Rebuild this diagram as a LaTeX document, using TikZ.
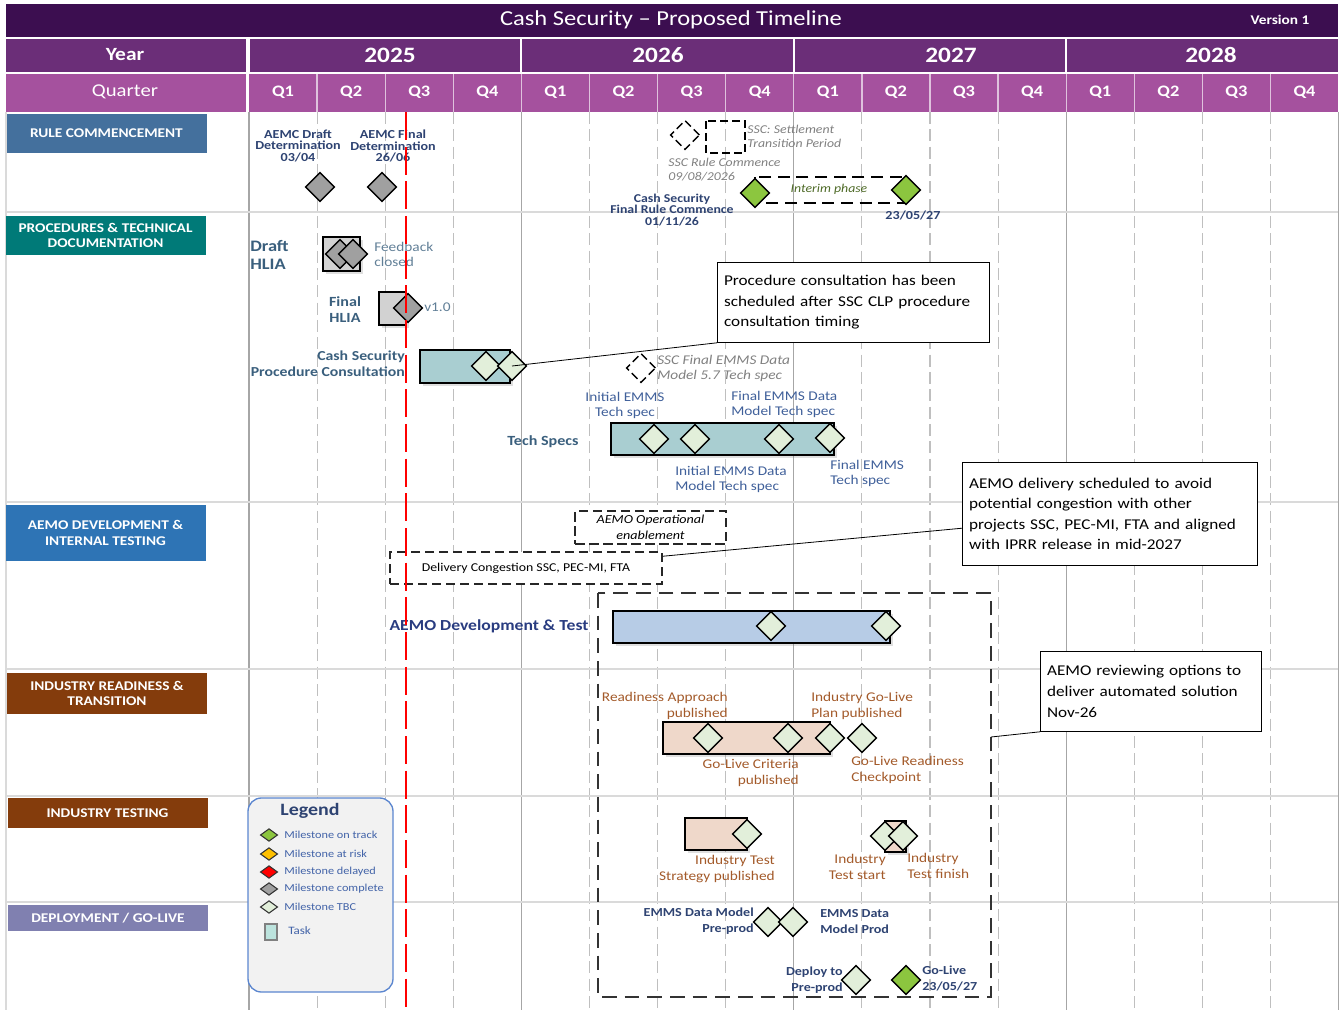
\documentclass[tikz,border=0pt]{standalone}
\usepackage{fontspec}
\setmainfont{Carlito}[FakeStretch=1.15]
\usetikzlibrary{positioning,shapes.geometric,calc,shadows}

\definecolor{titlebg}{HTML}{3C0E50}
\definecolor{yearbg}{HTML}{6B2E78}
\definecolor{qtrbg}{HTML}{A5519E}
\definecolor{gridgray}{HTML}{BFBFBF}
\definecolor{rowgray}{HTML}{DADADA}
\definecolor{navy}{HTML}{2E4372}
\definecolor{tealtxt}{HTML}{3A5F7D}
\definecolor{spectxt}{HTML}{40609A}
\definecolor{browntxt}{HTML}{A35A2A}
\definecolor{italgray}{HTML}{808080}
\definecolor{interim}{HTML}{4F6B28}
\definecolor{msgray}{HTML}{A0A0A0}
\definecolor{mstbc}{HTML}{E2EFDA}
\definecolor{msgreen}{HTML}{8CC63F}
\definecolor{msamber}{HTML}{FFC000}
\definecolor{msred}{HTML}{FF0000}
\definecolor{tealbar}{HTML}{A9CED1}
\definecolor{bluebar}{HTML}{B7CCE6}
\definecolor{peachbar}{HTML}{EFD8CA}
\definecolor{graybar}{HTML}{D2D2D2}
\definecolor{legtxt}{HTML}{4263A8}
\definecolor{legedge}{HTML}{5B86CF}
\definecolor{legfill}{HTML}{F2F2F2}
\definecolor{taskfill}{HTML}{BCE3DD}
\definecolor{rulecol}{HTML}{44709D}
\definecolor{proccol}{HTML}{007A78}
\definecolor{aemocol}{HTML}{2E74B5}
\definecolor{indcol}{HTML}{843C0C}
\definecolor{depcol}{HTML}{8080B0}

\begin{document}
\begin{tikzpicture}[
		x=0.75pt, y=-0.75pt, % 1 unit = 1 px of the layout
		ms/.style={diamond,draw=black,line width=1pt,inner sep=0pt,minimum size=22pt},
		done/.style={ms,fill=msgray},
		tbc/.style={ms,fill=mstbc},
		ontrack/.style={ms,fill=msgreen},
		ghost/.style={ms,dash pattern=on 6pt off 3pt},
		legms/.style={diamond,draw=black!80,line width=0.8pt,inner sep=0pt,minimum width=13pt,minimum height=9.5pt,fill=#1},
		bar/.style={draw=black,line width=1pt,drop shadow={opacity=0.25,shadow xshift=2pt,shadow yshift=-2pt}},
		sec/.style={fill=#1,text=white,font=\fontsize{10}{11.5}\selectfont\bfseries,align=center,inner sep=0pt,minimum width=150pt},
		yeartxt/.style={text=white,font=\fontsize{16.5}{18}\selectfont\bfseries},
		qtrtxt/.style={text=white,font=\fontsize{12}{13}\selectfont\bfseries},
		lblnavy/.style={font=\fontsize{9.2}{8.6}\selectfont\bfseries,text=navy,align=center,inner sep=0pt},
		italnote/.style={font=\fontsize{9}{10.5}\selectfont\itshape,text=italgray,align=left,inner sep=0pt},
		spec/.style={font=\fontsize{10}{11.3}\selectfont,text=spectxt,inner sep=0pt},
		procb/.style={font=\fontsize{10.5}{12}\selectfont\bfseries,text=tealtxt,inner sep=0pt},
		indlbl/.style={font=\fontsize{10}{11.5}\selectfont,text=browntxt,inner sep=0pt},
		deplbl/.style={font=\fontsize{9.2}{12}\selectfont\bfseries,text=navy,inner sep=0pt},
		callout/.style={draw=black,line width=0.6pt,fill=white,font=\fontsize{11.2}{15.4}\selectfont,align=left,anchor=north west,inner xsep=5pt},
		dbox/.style={draw=black!85,line width=1.2pt,dash pattern=on 7pt off 3.5pt,fill=white,inner sep=0pt}]
	\useasboundingbox (0,0) rectangle (1342,1012);

	% header
	\fill[titlebg] (6,4) rectangle (1338,37);
	\node (title) [text=white,font=\fontsize{16}{18}\selectfont] at (671,20) {Cash Security – Proposed Timeline};
	\node (version) [text=white,font=\fontsize{10}{11}\selectfont\bfseries] at (1280,20) {Version 1};
	\fill[yearbg] (6,39) rectangle (246,72);
	\node (yearhd) [text=white,font=\fontsize{14}{15}\selectfont\bfseries] at (125,55) {Year};
	\foreach \i/\yr/\tx in {0/2025/390,1/2026/658,2/2027/951,3/2028/1211} {
		\fill[yearbg] ({249+272.4*\i+1},39) rectangle ({249+272.4*(\i+1)-1},72);
		\node (y\yr) [yeartxt] at (\tx,55) {\yr};
	}
	\fill[qtrbg] (6,74) rectangle (246,112);
	\node (qtrhd) [text=white,font=\fontsize{13.5}{15}\selectfont] at (125,92) {Quarter};
	\fill[qtrbg] (249,74) rectangle (1338,112);
	\foreach \i in {1,...,15}
		\draw[white!65!qtrbg,line width=1pt] ({249+68.1*\i},74) -- ({249+68.1*\i},112);
	\foreach \i in {0,...,15} {
		\pgfmathsetmacro\qx{249+68.1*\i+34.05}
		\pgfmathtruncatemacro\qn{mod(\i,4)+1}
		\node (q\i) [qtrtxt] at (\qx,92) {Q\qn};
	}

	% grid
	\foreach \i in {1,2,3,5,6,7,9,10,11,13,14,15}
		\draw[gridgray,line width=0.8pt,dash pattern=on 9pt off 4pt] ({249+68.1*\i},112) -- ({249+68.1*\i},1010);
	\foreach \i in {0,4,8,12,16}
		\draw[black!35,line width=0.8pt] ({249+68.1*\i},112) -- ({249+68.1*\i},1010);
	\draw[rowgray,line width=1pt] (6,112) -- (6,1010);
	\foreach \ry in {212,502,669,796,902}
		\draw[rowgray,line width=1.2pt] (6,\ry) -- (1338,\ry);

	% section labels
	\node (secrule) [sec=rulecol,minimum height=29pt] at (106.5,133.5) {RULE COMMENCEMENT};
	\node (secproc) [sec=proccol,minimum height=29pt] at (105.5,235.5) {PROCEDURES \& TECHNICAL\\DOCUMENTATION};
	\node (secaemo) [sec=aemocol,minimum height=42pt] at (105.5,533) {AEMO DEVELOPMENT \&\\INTERNAL TESTING};
	\node (secind) [sec=indcol,minimum height=31pt] at (107,693.5) {INDUSTRY READINESS \&\\TRANSITION};
	\node (sectest) [sec=indcol,minimum height=22.5pt] at (107.5,813) {INDUSTRY TESTING};
	\node (secdep) [sec=depcol,minimum height=19.5pt] at (108,918) {DEPLOYMENT / GO-LIVE};

	% rule commencement
	\node (aemcd) [lblnavy] at (298,146) {AEMC Draft\\Determination\\03/04};
	\node (aemcf) [lblnavy] at (393,146) {AEMC Final\\Determination\\26/06};
	\node (rc1) [done] at (320,187) {};
	\node (rc2) [done] at (382,187) {};
	\node (sscrc) [ghost] at (685,135) {};
	\draw[black,line width=1pt,dash pattern=on 6pt off 3pt] (706,121) rectangle (745,153);
	\node (ssctp) [italnote,anchor=west] at (747,136) {SSC: Settlement\\Transition Period};
	\node (sscrcl) [italnote,anchor=west] at (668,170) {SSC Rule Commence\\09/08/2026};
	\draw[black,line width=1pt,dash pattern=on 9pt off 5pt] (755,177) rectangle (905,203);
	\node (interim) [font=\fontsize{9}{10}\selectfont\itshape,text=interim] at (829,189) {Interim phase};
	\node (frc) [ontrack] at (755,193) {};
	\node (frc2) [ontrack] at (906,190) {};
	\node (frcl) [lblnavy,font=\fontsize{9}{8.6}\selectfont\bfseries] at (672,210) {Cash Security\\Final Rule Commence\\01/11/26};
	\node (frc2l) [lblnavy] at (913,215) {23/05/27};

	% procedures & technical documentation
	\node (dhlia) [font=\fontsize{12}{13.5}\selectfont\bfseries,text=tealtxt,align=left,inner sep=0pt,anchor=west] at (250,255) {Draft\\HLIA};
	\path[bar,fill=graybar] (323,237) rectangle (360,271);
	\node (dh1) [done] at (340,254) {};
	\node (dh2) [done] at (353,254) {};
	\node (fbc) [font=\fontsize{10}{11.3}\selectfont,text=tealtxt!80,align=left,inner sep=0pt,anchor=west] at (374,254) {Feedback\\closed};
	\node (fhlia) [procb,align=center] at (345,310) {Final\\HLIA};
	\path[bar,fill=graybar] (379,292) rectangle (406,325);
	\node (fh1) [done] at (408,308) {};
	\node (v10) [font=\fontsize{10}{11.3}\selectfont,text=tealtxt!80,inner sep=0pt,anchor=west] at (424,307) {v1.0};
	\node (pcl) [procb,font=\fontsize{10.3}{12}\selectfont\bfseries,align=right,anchor=east] at (405,364) {Cash Security\\Procedure Consultation};
	\path[bar,fill=tealbar] (420,350) rectangle (510,383);
	\node (pc1) [tbc] at (486,366) {};
	\node (pc2) [tbc] at (512,366) {};
	\node (callA) [callout,text width=194pt,minimum height=60pt] at (717,262) {Procedure consultation has been\\scheduled after SSC CLP procedure\\consultation timing};
	\draw[black,line width=0.6pt] (pc2.center) -- (callA.south west);
	\node (sscdm) [ghost] at (641,368) {};
	\node (sscdml) [italnote,font=\fontsize{10}{11.3}\selectfont\itshape,anchor=west] at (657,368) {SSC Final EMMS Data\\Model 5.7 Tech spec};
	\node (iets) [spec,align=center] at (625,405) {Initial EMMS\\Tech spec};
	\node (fedm) [spec,align=left,anchor=west] at (731,404) {Final EMMS Data\\Model Tech spec};
	\node (tspec) [procb] at (543,442) {Tech Specs};
	\path[bar,fill=tealbar] (611,423) rectangle (834,455);
	\node (ts1) [tbc] at (654,439) {};
	\node (ts2) [tbc] at (695,439) {};
	\node (ts3) [tbc] at (779,439) {};
	\node (ts4) [tbc] at (830,438) {};
	\node (iedm) [spec,align=left,anchor=west] at (675,479) {Initial EMMS Data\\Model Tech spec};
	\node (fets) [spec,align=left,anchor=west] at (830,473) {Final EMMS\\Tech spec};

	% AEMO development & internal testing
	\node (callB) [callout,text width=211pt,minimum height=77pt] at (962,462) {AEMO delivery scheduled to avoid\\potential congestion with other\\projects SSC, PEC-MI, FTA and aligned\\with IPRR release in mid-2027};
	\node (aemoop) [dbox,font=\fontsize{9.2}{12}\selectfont\itshape,align=center,minimum width=113pt,minimum height=25pt] at (650.5,527.5) {AEMO Operational\\enablement};
	\node (dcong) [dbox,font=\fontsize{9}{10}\selectfont,minimum width=204pt,minimum height=24pt] at (526,568) {Delivery Congestion SSC, PEC-MI, FTA};
	\draw[black,line width=0.6pt] ($(dcong.north east)!0.15!(dcong.south east)$) -- ($(callB.south west)!0.36!(callB.north west)$);
	\draw[black!80,line width=1.5pt,dash pattern=on 11pt off 6pt] (598,593) rectangle (991,997);
	\coordinate (devR) at (991,737);
	\node (adt) [font=\fontsize{11.5}{14}\selectfont\bfseries,text=navy!90!blue,inner sep=0pt] at (489,626) {AEMO Development \& Test};
	\path[bar,fill=bluebar] (613,611) rectangle (890,643);
	\node (ad1) [tbc] at (771,626) {};
	\node (ad2) [tbc] at (886,626) {};
	\node (callC) [callout,text width=156pt,minimum height=60pt] at (1040,651) {AEMO reviewing options to\\deliver automated solution\\Nov-26};
	\draw[black,line width=0.6pt] (devR) -- (callC.south west);

	% industry readiness & transition
	\node (rapl) [indlbl,align=right,anchor=east] at (728,706) {Readiness Approach\\published};
	\node (iglp) [indlbl,align=left,anchor=west] at (811,706) {Industry Go-Live\\Plan published};
	\path[bar,fill=peachbar] (663,722) rectangle (830,754);
	\node (ir1) [tbc] at (708,738) {};
	\node (ir2) [tbc] at (788,738) {};
	\node (ir3) [tbc] at (830,738) {};
	\node (ir4) [tbc] at (862,738) {};
	\node (glcp) [indlbl,align=right,anchor=east] at (799,773) {Go-Live Criteria\\published};
	\node (glrc) [indlbl,align=left,anchor=west] at (851,770) {Go-Live Readiness\\Checkpoint};

	% industry testing
	\path[bar,fill=peachbar] (685,818) rectangle (747,850);
	\node (it1) [tbc] at (747,834) {};
	\node (itsp) [indlbl,align=right,anchor=east] at (775,869) {Industry Test\\Strategy published};
	\path[bar,fill=peachbar] (885,821) rectangle (906,852);
	\node (it2) [tbc] at (885,836) {};
	\node (it3) [tbc] at (903,836) {};
	\node (itst) [indlbl,align=right,anchor=east] at (886,867) {Industry\\Test start};
	\node (itfn) [indlbl,align=left,anchor=west] at (907,866) {Industry\\Test finish};

	% deployment / go-live
	\node (dmpp) [deplbl,align=right,anchor=east] at (754,921) {EMMS Data Model\\Pre-prod};
	\node (dp1) [tbc] at (768,922) {};
	\node (dp2) [tbc] at (793,922) {};
	\node (dmpr) [deplbl,align=left,anchor=west] at (820,922) {EMMS Data\\Model Prod};
	\node (dtpp) [deplbl,align=right,anchor=east] at (843,980) {Deploy to\\Pre-prod};
	\node (dp3) [tbc] at (856,980) {};
	\node (golive) [ontrack] at (906,980) {};
	\node (golivel) [deplbl,align=left,anchor=west] at (922,978) {Go-Live\\23/05/27};

	% legend
	\draw[legedge,fill=legfill,line width=1pt,rounded corners=10pt] (248,798) rectangle (393,992);
	\node (legtitle) [font=\fontsize{13}{15}\selectfont\bfseries,text=navy] at (310,811) {Legend};
	\foreach \ly/\lc/\lt in {835/msgreen/Milestone on track,854/msamber/Milestone at risk,872/msred/Milestone delayed,889/msgray/Milestone complete,907/mstbc/Milestone TBC} {
		\node (lgm\ly) [legms=\lc] at (269,\ly) {};
		\node (lgt\ly) [font=\fontsize{8}{10}\selectfont,text=legtxt,anchor=west,inner sep=0pt] at (284,\ly) {\lt};
	}
	\draw[black!50,fill=taskfill,line width=0.8pt] (265,924) rectangle (277,940);
	\node (lgtask) [font=\fontsize{8.5}{10}\selectfont,text=legtxt,anchor=west,inner sep=0pt] at (288,931) {Task};

	% today line
	\draw[red,line width=1.2pt,dash pattern=on 21pt off 5pt] (406,112) -- (406,1010);
\end{tikzpicture}
\end{document}
